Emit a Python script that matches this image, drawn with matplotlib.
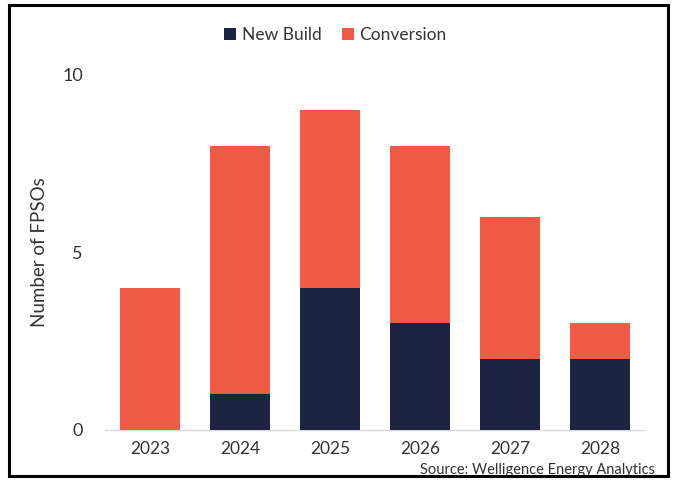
import matplotlib
matplotlib.use("Agg")
import matplotlib.pyplot as plt
from matplotlib.patches import Rectangle

years = ["2023", "2024", "2025", "2026", "2027", "2028"]
new_build = [0, 1, 4, 3, 2, 2]
conversion = [4, 7, 5, 5, 4, 1]

NAVY = "#1d2342"
RED = "#f05b45"
TXT = "#333333"

plt.rcParams["font.family"] = ["Lato", "DejaVu Sans"]

fig = plt.figure(figsize=(6.75, 4.82), dpi=100)
ax = fig.add_axes([0.1556, 0.108, 0.80, 0.7365])

x = range(len(years))
ax.bar(x, new_build, width=0.66, color=NAVY, label="New Build", zorder=3)
ax.bar(x, conversion, width=0.66, bottom=new_build, color=RED,
       label="Conversion", zorder=3)

ax.set_xlim(-0.5, len(years) - 0.5)
ax.set_ylim(0, 10)
ax.set_yticks([0, 5, 10])
ax.set_xticks(list(x))
ax.set_xticklabels(years)
ax.tick_params(axis="both", length=0, labelsize=13, colors=TXT)
ax.tick_params(axis="x", labelsize=12.5, pad=8)
ax.tick_params(axis="y", pad=16)
ax.set_ylabel("Number of FPSOs", fontsize=13.5, color=TXT, labelpad=10)

for side in ["top", "right", "left"]:
    ax.spines[side].set_visible(False)
ax.spines["bottom"].set_color("#d9d9d9")
ax.spines["bottom"].set_linewidth(1.0)

fig.legend(loc="center", bbox_to_anchor=(0.497, 0.928), ncol=2, frameon=False,
           fontsize=12.5, handlelength=0.7, handleheight=0.7, handletextpad=0.3,
           columnspacing=1.2, labelcolor=TXT)

fig.text(0.97, 0.01, "Source: Welligence Energy Analytics", ha="right",
         va="bottom", fontsize=10.5, color=TXT)

# frame round the whole figure
fig.patches.append(Rectangle((0.013, 0.012), 0.976, 0.977, transform=fig.transFigure,
                             fill=False, edgecolor="black", linewidth=2.2, zorder=5))

fig.savefig("out.png", dpi=100, facecolor="white")
